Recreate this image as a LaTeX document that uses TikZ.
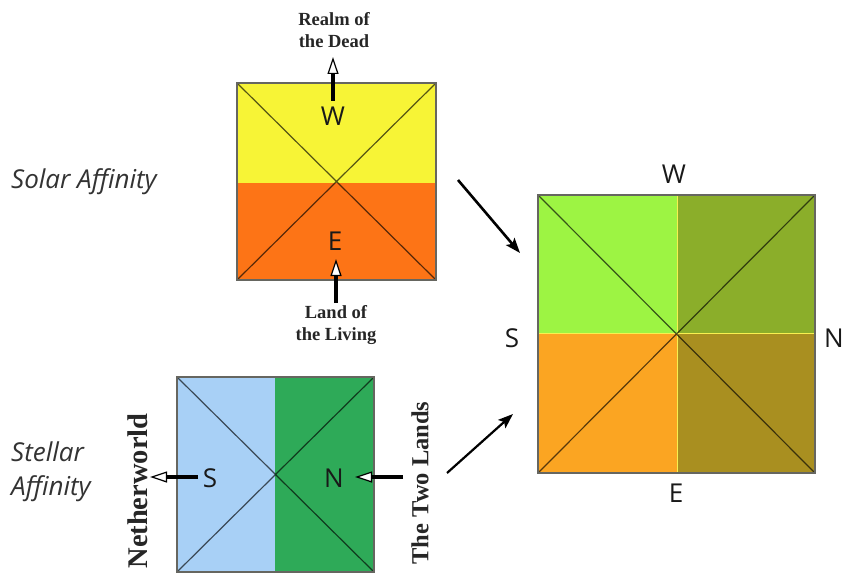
\documentclass[tikz,border=0pt]{standalone}
\usepackage{fontspec}
\setmainfont{Open Sans}
\newfontfamily\lblfont{Liberation Serif}
\usetikzlibrary{arrows.meta}
\definecolor{cYel}{HTML}{F7F436}
\definecolor{cOrg}{HTML}{FD7416}
\definecolor{cBlue}{HTML}{A8D0F6}
\definecolor{cGrn}{HTML}{2EAA58}
\definecolor{cTL}{HTML}{9DF443}
\definecolor{cTR}{HTML}{8BAE2A}
\definecolor{cBL}{HTML}{FBA522}
\definecolor{cBR}{HTML}{A98F20}
\definecolor{cDiv}{HTML}{F8F050}
\definecolor{cBorder}{HTML}{666660}
\begin{document}
\begin{tikzpicture}[x=1pt,y=-1pt,
  border/.style={draw=cBorder, line width=1.3pt},
  diag/.style={draw=black, draw opacity=0.65, line width=1.2pt},
  divline/.style={draw=cDiv, line width=0.9pt},
  dirlab/.style={inner sep=0pt, font=\fontsize{26}{30}\selectfont, text=black!90},
  lbl/.style={inner sep=0pt, align=center, font=\lblfont\bfseries\fontsize{18.5}{22}\selectfont, text=black!85},
  affin/.style={inner sep=0pt, align=left, font=\itshape\fontsize{26}{34}\selectfont, text=black!80},
  openarr/.style={line width=3.6pt, -{Triangle[fill=white, length=17pt, width=11pt, line width=1.2pt]}},
  bigarr/.style={line width=2.6pt, -{Stealth[length=15pt, width=11pt, inset=3pt]}}
]
\useasboundingbox (0,0) rectangle (845,575);

% ---------- Solar square ----------
\fill[cYel] (237,83) rectangle (436,183);
\fill[cOrg] (237,183) rectangle (436,280);
\draw[diag] (237,83) -- (436,280) (436,83) -- (237,280);
\node[border, inner sep=0pt, minimum width=199pt, minimum height=197pt] (solar) at (336.5,181.5) {};

\node[dirlab] (sW) at (333,116) {W};
\node[dirlab] (sE) at (335,241) {E};
\node[lbl] (realm) at (334,30) {Realm of\\the Dead};
\node[lbl] (land) at (336,325) {Land of\\the Living};
\coordinate (wbase) at (333,101);
\coordinate (ebase) at (336,303);
\draw[openarr] (wbase) -- (333,57);
\draw[openarr] (ebase) -- (336,259);

\node[affin, anchor=base west] (solaraff) at (11,188) {Solar Affinity};

% ---------- Stellar square ----------
\fill[cBlue] (177,377) rectangle (275,572);
\fill[cGrn] (275,377) rectangle (374,572);
\draw[diag] (177,377) -- (374,572) (374,377) -- (177,572);
\node[border, inner sep=0pt, minimum width=197pt, minimum height=195pt] (stellar) at (275.5,474.5) {};

\node[dirlab] (tS) at (210,478) {S};
\node[dirlab] (tN) at (334,478) {N};
\coordinate (sbase) at (198,477);
\coordinate (nbase) at (403,477);
\draw[openarr] (sbase) -- (150,477);
\draw[openarr] (nbase) -- (355,477);

\node[lbl, rotate=90, font=\lblfont\bfseries\fontsize{28.5}{30}\selectfont] (nether) at (138,491) {Netherworld};
\node[lbl, rotate=90, font=\lblfont\bfseries\fontsize{24.5}{28}\selectfont] (twolands) at (420,483) {The Two Lands};

\node[affin, anchor=base west] (stellaraff) at (11,495) {Stellar\\Affinity};

% ---------- Combined square ----------
\fill[cTL] (538,195) rectangle (677,333);
\fill[cTR] (677,195) rectangle (815,333);
\fill[cBL] (538,333) rectangle (677,473);
\fill[cBR] (677,333) rectangle (815,473);
\draw[divline] (677,195) -- (677,473) (538,333) -- (815,333);
\draw[diag] (538,195) -- (815,473) (815,195) -- (538,473);
\node[border, inner sep=0pt, minimum width=277pt, minimum height=278pt] (comb) at (676.5,334) {};

\node[dirlab] (cW) at (674,174) {W};
\node[dirlab] (cE) at (676,493) {E};
\node[dirlab] (cS) at (512,338) {S};
\node[dirlab] (cN) at (834,338) {N};

% ---------- Big arrows ----------
\coordinate (a1s) at (458,180);
\coordinate (a1e) at (520,253);
\coordinate (a2s) at (447,473);
\coordinate (a2e) at (513,414);
\draw[bigarr] (a1s) -- (a1e);
\draw[bigarr, line width=2.2pt] (a2s) -- (a2e);
\end{tikzpicture}
\end{document}
